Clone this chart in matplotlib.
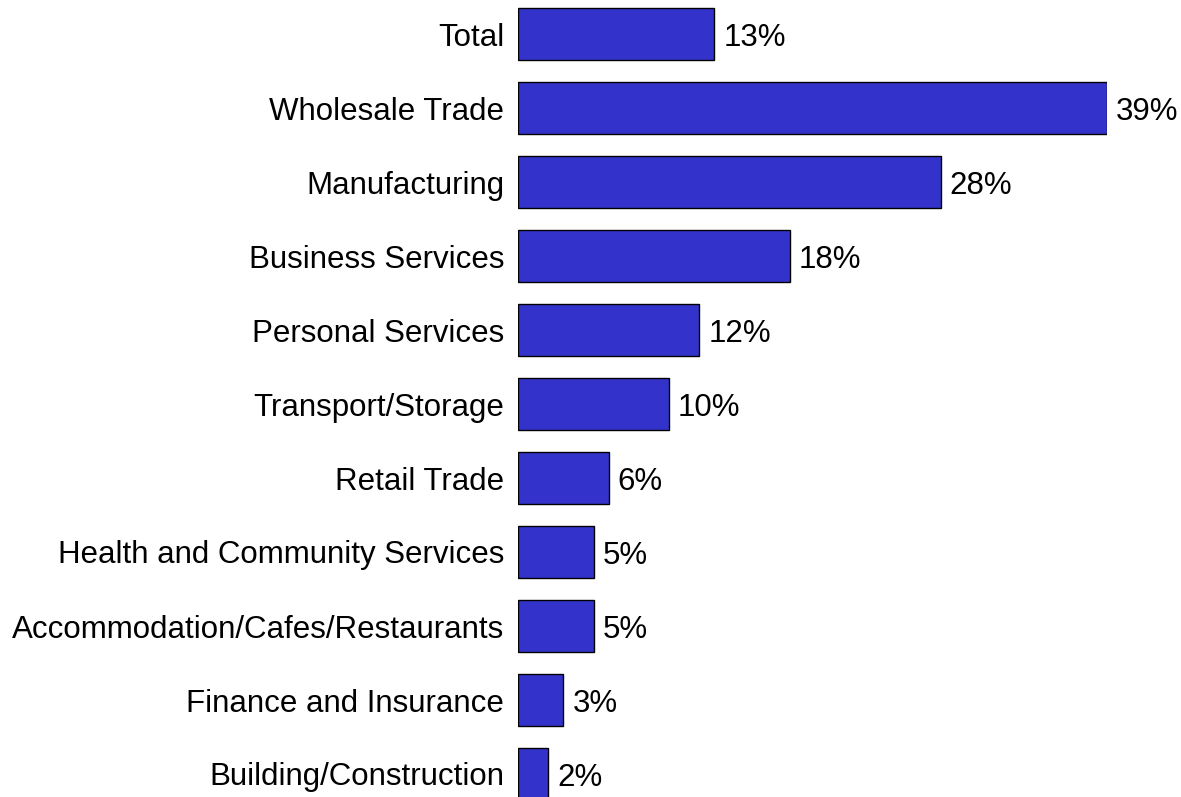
import matplotlib
matplotlib.use("Agg")
import matplotlib.pyplot as plt

# Share of businesses by industry, percent
industries = [
    "Total",
    "Wholesale Trade",
    "Manufacturing",
    "Business Services",
    "Personal Services",
    "Transport/Storage",
    "Retail Trade",
    "Health and Community Services",
    "Accommodation/Cafes/Restaurants",
    "Finance and Insurance",
    "Building/Construction",
]
shares = [13, 39, 28, 18, 12, 10, 6, 5, 5, 3, 2]

plt.rcParams["font.family"] = ["Liberation Sans", "DejaVu Sans"]

W, H = 1181, 797
fig = plt.figure(figsize=(W / 100, H / 100), dpi=100)

# axes placed in pixel units: bars start at x=518, 39% ends at x=1107,
# row pitch 74 px with first row centred at y=34
x0, x1 = 518, 1107
top_px, pitch = 34, 74
n = len(industries)
y_top = top_px - pitch / 2
y_bot = top_px + pitch * (n - 1) + pitch / 2
ax = fig.add_axes([x0 / W, (H - y_bot) / H, (x1 - x0) / W, (y_bot - y_top) / H])

ypos = list(range(n))
ax.barh(ypos, shares, height=0.7, color="#3333CC", edgecolor="black", linewidth=1)

ax.set_xlim(0, 39)
ax.set_ylim(n - 0.5, -0.5)
ax.set_yticks(ypos)
ax.set_yticklabels(industries, fontsize=22.5)
ax.tick_params(axis="y", length=0, pad=10)
ax.set_xticks([])
for s in ax.spines.values():
    s.set_visible(False)

for y, v in zip(ypos, shares):
    ax.annotate(f"{v}%", xy=(v, y), xytext=(9, 0), textcoords="offset pixels",
                va="center_baseline", ha="left", fontsize=22.5)

fig.savefig("out.png", dpi=100)
